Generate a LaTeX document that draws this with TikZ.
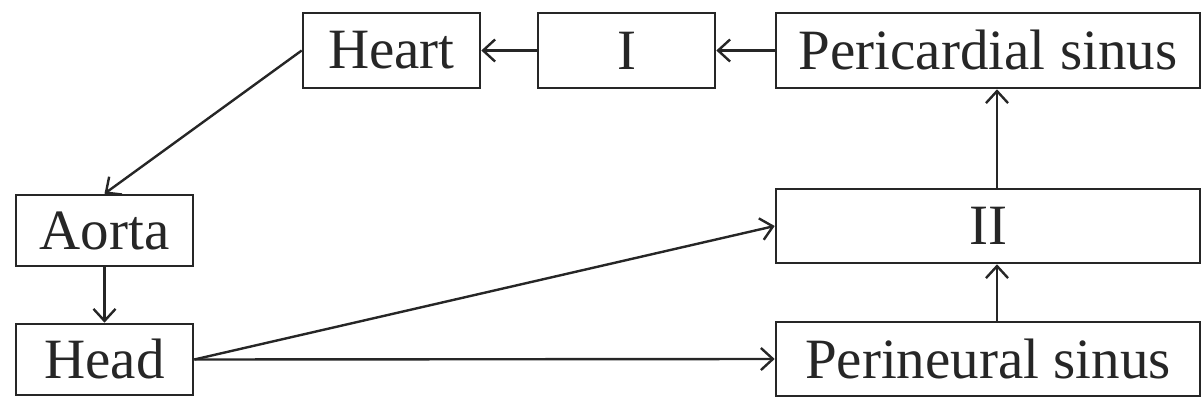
\documentclass[tikz,border=0pt]{standalone}
\usepackage{fontspec}
\setmainfont{Liberation Serif}
\usetikzlibrary{arrows.meta}
\begin{document}
\begin{tikzpicture}[x=1pt,y=-1pt,
  box/.style={draw=black!85, line width=2.6pt, inner sep=0pt, font=\fontsize{57}{60}\selectfont, text=black!85},
  conn/.style={draw=black!85, line width=2.4pt, -{Straight Barb[length=12pt,width=22pt,line width=2.4pt]}}]
\useasboundingbox (0,0) rectangle (1202,409);
\node[box, minimum width=177pt, minimum height=75pt] (heart) at (391.5,50.5) {Heart};
\node[box, minimum width=177pt, minimum height=75pt] (one) at (626.5,50.5) {I};
\node[box, minimum width=424pt, minimum height=75pt] (peri) at (988,50.5) {Pericardial sinus};
\node[box, minimum width=177pt, minimum height=71pt] (aorta) at (104.5,230.5) {Aorta};
\node[box, minimum width=177pt, minimum height=71pt] (head) at (104.5,359.5) {Head};
\node[box, minimum width=424pt, minimum height=74pt] (two) at (988,226) {II};
\node[box, minimum width=424pt, minimum height=74pt] (neur) at (988,359) {Perineural sinus};
\draw[conn] (one.west) -- (heart.east);
\draw[conn] (peri.west) -- (one.east);
\draw[conn] (heart.west) -- (aorta.north);
\draw[conn] (aorta.south) -- (head.north);
\draw[conn] (head.east) -- (two.west);
\draw[conn] (head.east) -- (neur.west);
\draw[conn] (neur.north -| 997,0) -- (two.south -| 997,0);
\draw[conn] (two.north -| 997,0) -- (peri.south -| 997,0);
\end{tikzpicture}
\end{document}
